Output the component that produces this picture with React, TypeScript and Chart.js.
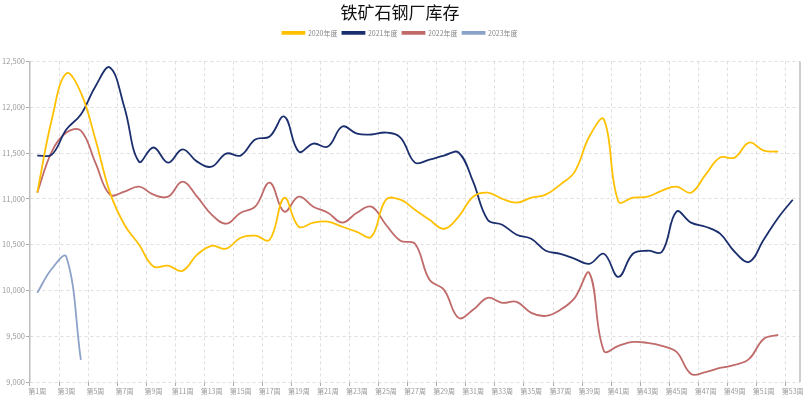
import React, { useEffect, useRef } from "react";
import { Chart, registerables } from "chart.js";

Chart.register(...registerables);

const weeks: string[] = Array.from({ length: 53 }, (_, i) => `第${i + 1}周`);

const seriesNames = ["2020年度", "2021年度", "2022年度", "2023年度"];

const v2020: (number | null)[] = [
  11067, 11866, 12369, 12160, 11650, 11070, 10717, 10500, 10260, 10270,
  10214, 10390, 10487, 10455, 10575, 10597, 10553, 11010, 10695, 10740,
  10750, 10695, 10640, 10586, 10990, 10990, 10880, 10770, 10673, 10805,
  11023, 11067, 11000, 10958, 11012, 11045, 11155, 11297, 11680, 11866,
  10970, 11012, 11023, 11090, 11133, 11067, 11264, 11450, 11450, 11614,
  11527, 11515, null,
];

const v2021: (number | null)[] = [
  11472, 11483, 11756, 11920, 12227, 12434, 11997, 11406, 11560, 11395,
  11540, 11406, 11350, 11494, 11472, 11647, 11680, 11898, 11515, 11603,
  11570, 11789, 11712, 11702, 11723, 11669, 11395, 11428, 11472, 11505,
  11187, 10772, 10717, 10608, 10564, 10433, 10400, 10345, 10290, 10400,
  10148, 10400, 10433, 10422, 10860, 10740, 10695, 10620, 10422, 10312,
  10553, 10794, 10990,
];

const v2022: (number | null)[] = [
  11067, 11515, 11723, 11745, 11395, 11045, 11078, 11133, 11045, 11023,
  11187, 11023, 10827, 10728, 10848, 10914, 11176, 10860, 11023, 10914,
  10848, 10740, 10848, 10914, 10717, 10542, 10509, 10116, 10006, 9700,
  9788, 9919, 9864, 9875, 9755, 9722, 9788, 9919, 10190, 9340,
  9394, 9437, 9427, 9394, 9328, 9088, 9109, 9153, 9186, 9252,
  9470, 9514, null,
];

const v2023: (number | null)[] = [9973, 10236, 10367, 9241];

const colors = ["#FFC000", "#1B2F6E", "#C06A6A", "#8CA2C8"];

const yMin = 9000;
const yMax = 12500;
const yStep = 500;

const FONT = "'Noto Sans CJK SC', 'Noto Sans', sans-serif";

const rightBorder = {
  id: "rightBorder",
  afterDraw(chart: any) {
    const { ctx, chartArea } = chart;
    ctx.save();
    ctx.strokeStyle = "#bdbdbd";
    ctx.lineWidth = 1.5;
    ctx.beginPath();
    ctx.moveTo(chartArea.right, chartArea.top);
    ctx.lineTo(chartArea.right, chartArea.bottom);
    ctx.stroke();
    ctx.restore();
  },
};

const legendSpacer = {
  id: "legendSpacer",
  beforeInit(chart: any) {
    const legend = chart.legend;
    if (!legend) return;
    const orig = legend.fit;
    legend.fit = function () {
      orig.call(this);
      this.height += 15;
    };
  },
};

export default function App() {
  const ref = useRef<HTMLCanvasElement | null>(null);

  useEffect(() => {
    if (!ref.current) return;
    const all = [v2020, v2021, v2022, v2023];
    const chart = new Chart(ref.current, {
      type: "line",
      data: {
        labels: weeks,
        datasets: all.map((d, i) => ({
          label: seriesNames[i],
          data: d,
          borderColor: colors[i],
          backgroundColor: colors[i],
          borderWidth: 1.8,
          pointRadius: 0,
          pointHoverRadius: 0,
          tension: 0.4,
          fill: false,
          spanGaps: false,
        })),
      },
      options: {
        animation: false,
        responsive: true,
        maintainAspectRatio: false,
        layout: { padding: { top: 0, right: 10, left: 0, bottom: 0 } },
        plugins: {
          title: {
            display: true,
            text: "铁矿石钢厂库存",
            color: "#111",
            font: { family: FONT, size: 17, weight: "normal" },
            padding: { top: 2, bottom: 2 },
          },
          legend: {
            display: true,
            labels: {
              boxWidth: 22,
              boxHeight: 2,
              padding: 5,
              color: "#888",
              font: { family: FONT, size: 7 },
            },
          },
          tooltip: { enabled: false },
        },
        scales: {
          x: {
            offset: true,
            afterFit: (s: any) => {
              s.height = 15;
            },
            grid: {
              offset: true,
              color: (c: any) => (c.index % 2 === 0 ? "#dedede" : "rgba(0,0,0,0)"),
              tickColor: (c: any) => (c.index % 2 === 0 ? "#aaa" : "rgba(0,0,0,0)"),
              tickLength: 4,
              lineWidth: 1,
            },
            border: { display: false, dash: [3, 3] },
            ticks: {
              autoSkip: false,
              maxRotation: 0,
              minRotation: 0,
              padding: 1,
              color: "#999",
              font: { family: FONT, size: 7 },
              callback: (_v: any, i: number) => (i % 2 === 0 ? weeks[i] : ""),
            },
          },
          y: {
            min: yMin,
            max: yMax,
            afterFit: (s: any) => {
              s.width = 30;
            },
            grid: {
              color: "#dedede",
              tickColor: "#aaa",
              tickLength: 4,
              lineWidth: 1,
            },
            border: { display: true, color: "#bdbdbd", width: 1.5, dash: [3, 3] },
            ticks: {
              stepSize: yStep,
              padding: 1,
              color: "#999",
              font: { family: FONT, size: 7.5 },
              callback: (v: any) => Number(v).toLocaleString("en-US"),
            },
          },
        },
      },
      plugins: [rightBorder, legendSpacer],
    });
    return () => chart.destroy();
  }, []);

  return (
    <div style={{ position: "absolute", left: 0, top: 0, width: 810, height: 397, background: "#fff" }}>
      <canvas ref={ref} />
    </div>
  );
}
